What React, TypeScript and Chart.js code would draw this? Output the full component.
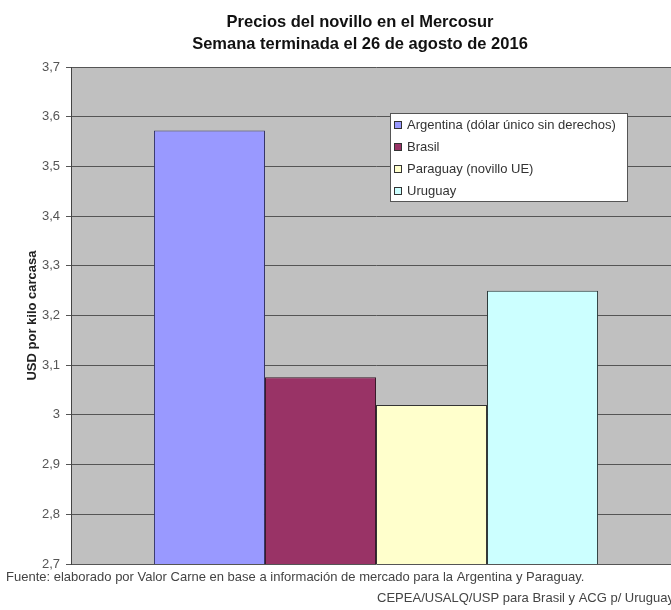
import React, { useEffect, useRef } from 'react';
import { Chart, registerables } from 'chart.js';

Chart.register(...registerables);

const categories = [''];
const seriesNames = [
  'Argentina (dólar único sin derechos)',
  'Brasil',
  'Paraguay (novillo UE)',
  'Uruguay',
];
const seriesValues = [3.572, 3.076, 3.02, 3.25];
const seriesColors = ['#9999FF', '#993366', '#FFFFCC', '#CCFFFF'];
const seriesBorders = ['#333366', '#3a1a2a', '#333333', '#2a3a3a'];
const yMin = 2.7;
const yMax = 3.7;
const yStep = 0.1;
const titleLines = ['Precios del novillo en el Mercosur', 'Semana terminada el 26 de agosto de 2016'];
const yTitle = 'USD por kilo carcasa';
const footerLeft = 'Fuente: elaborado por Valor Carne en base a información de mercado para la Argentina y Paraguay.';
const footerRight = 'CEPEA/USALQ/USP para Brasil y ACG p/ Uruguay';

const FONT = "'Liberation Sans', Arial, sans-serif";

const formatTick = (v: number) => {
  const r = Math.round(v * 10) / 10;
  return String(r).replace('.', ',');
};

export default function App() {
  const ref = useRef<HTMLCanvasElement>(null);

  useEffect(() => {
    const bgPlugin = {
      id: 'bgPlugin',
      beforeDraw(chart: any) {
        const { ctx, chartArea } = chart;
        ctx.save();
        ctx.fillStyle = '#ffffff';
        ctx.fillRect(0, 0, chart.width, chart.height);
        ctx.fillStyle = '#c0c0c0';
        ctx.fillRect(chartArea.left, chartArea.top, chartArea.right - chartArea.left, chartArea.bottom - chartArea.top);
        ctx.restore();
      },
    };

    const textPlugin = {
      id: 'textPlugin',
      afterDraw(chart: any) {
        const { ctx, chartArea } = chart;
        ctx.save();
        // Title
        ctx.fillStyle = '#111';
        ctx.font = `bold 16.5px ${FONT}`;
        ctx.textAlign = 'center';
        ctx.textBaseline = 'middle';
        titleLines.forEach((t, i) => ctx.fillText(t, 360, 22 + i * 22));

        // Legend
        const lx = chartArea.left + 319;
        const ly = chartArea.top + 46;
        const lw = 237;
        const lh = 88;
        ctx.fillStyle = '#ffffff';
        ctx.fillRect(lx, ly, lw, lh);
        ctx.strokeStyle = '#555';
        ctx.lineWidth = 1;
        ctx.strokeRect(lx + 0.5, ly + 0.5, lw, lh);
        ctx.font = `13px ${FONT}`;
        ctx.textAlign = 'left';
        ctx.textBaseline = 'middle';
        chart.data.datasets.forEach((ds: any, i: number) => {
          const cy = ly + 12 + i * 22;
          ctx.fillStyle = ds.backgroundColor;
          ctx.fillRect(lx + 5, cy - 3, 6, 6);
          ctx.strokeStyle = '#333';
          ctx.strokeRect(lx + 4.5, cy - 3.5, 7, 7);
          ctx.fillStyle = '#333';
          ctx.fillText(ds.label, lx + 17, cy);
        });

        // Footer
        ctx.fillStyle = '#444';
        ctx.font = `13px ${FONT}`;
        ctx.textAlign = 'left';
        ctx.fillText(footerLeft, 6, 577);
        ctx.textAlign = 'right';
        ctx.fillText(footerRight, 674, 598);
        ctx.restore();
      },
    };

    const chart = new Chart(ref.current as HTMLCanvasElement, {
      type: 'bar',
      data: {
        labels: categories,
        datasets: seriesNames.map((name, i) => ({
          label: name,
          data: [seriesValues[i]],
          backgroundColor: seriesColors[i],
          borderColor: seriesBorders[i],
          borderWidth: 1,
          categoryPercentage: 0.728,
          barPercentage: 1,
        })),
      },
      options: {
        responsive: false,
        animation: false,
        devicePixelRatio: 1,
        layout: { padding: { left: 0, top: 67, right: 35, bottom: 46 } },
        plugins: {
          legend: { display: false },
          title: { display: false },
          tooltip: { enabled: false },
        },
        scales: {
          x: { display: false },
          y: {
            min: yMin,
            max: yMax,
            ticks: {
              stepSize: yStep,
              callback: (v: any) => formatTick(Number(v)),
              font: { family: FONT, size: 13 },
              color: '#555',
              padding: 6,
            },
            grid: {
              color: '#555',
              lineWidth: 1,
              tickLength: 5,
              tickColor: '#555',
              drawTicks: true,
            },
            border: { display: true, color: '#444', width: 1 },
            title: {
              display: true,
              text: yTitle,
              font: { family: FONT, size: 13, weight: 'bold' },
              color: '#222',
              padding: { top: 25, bottom: 0 },
            },
            afterFit: (s: any) => {
              s.width = 71;
            },
          },
        },
      },
      plugins: [bgPlugin, textPlugin],
    } as any);
    return () => chart.destroy();
  }, []);

  return (
    <div style={{ position: 'fixed', left: 0, top: 0, width: 716, height: 610, background: '#fff' }}>
      <canvas ref={ref} width={716} height={610} style={{ width: 716, height: 610, display: 'block' }} />
    </div>
  );
}
